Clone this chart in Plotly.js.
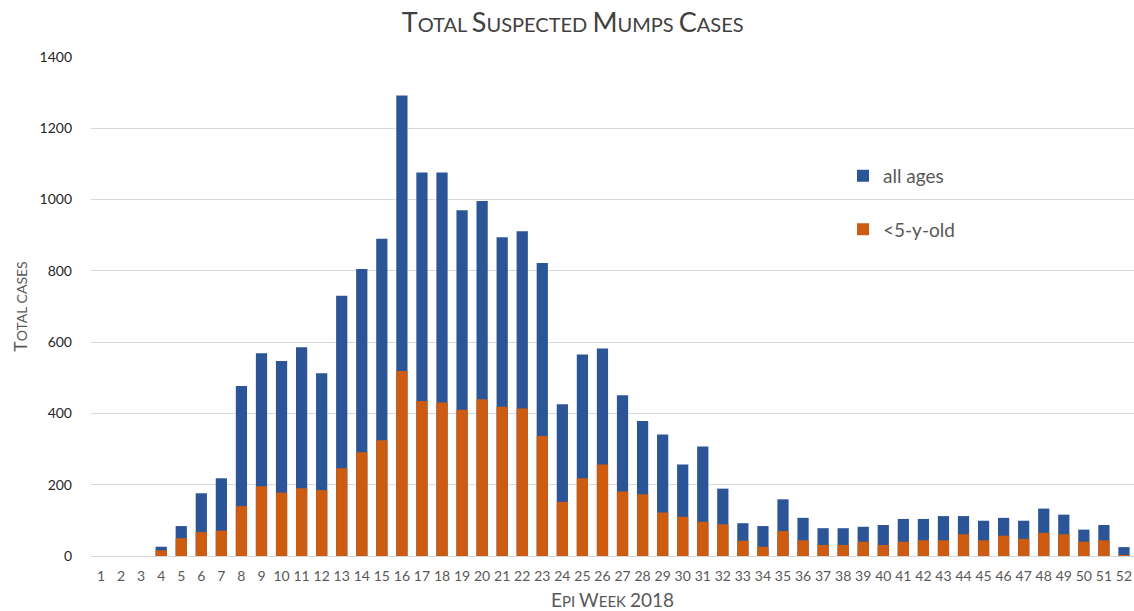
<!DOCTYPE html>
<html>
<head>
<meta charset="utf-8">
<script src="https://cdn.plot.ly/plotly-3.0.1.min.js"></script>
<style>html,body{margin:0;padding:0;background:#fff;}#chart{width:1134px;height:611px;}</style>
</head>
<body>
<div id="chart"></div>
<script>
// Epi weeks 1..52
const weeks = [];
for (let i = 1; i <= 52; i++) weeks.push(i);

// Total suspected cases, all ages
const allAges = [0, 0, 0, 26, 84, 176, 218, 477, 569, 547, 586, 513, 730, 805, 890, 1292, 1076,
  1076, 970, 996, 894, 911, 822, 426, 565, 582, 451, 379, 341, 257, 307, 189, 92, 84, 159,
  107, 78, 78, 82, 87, 104, 104, 112, 112, 99, 107, 99, 133, 116, 74, 87, 25];

// Suspected cases, children under 5 years old
const under5 = [0, 0, 0, 16, 50, 67, 71, 140, 196, 178, 190, 185, 246, 291, 325, 519, 435,
  431, 410, 440, 419, 414, 337, 152, 218, 257, 181, 173, 122, 110, 96, 89, 43, 26, 70,
  44, 31, 31, 40, 31, 40, 44, 44, 61, 44, 57, 48, 65, 61, 40, 44, 3];

const seriesNames = ['all ages', '<5-y-old'];
const yTicks = [0, 200, 400, 600, 800, 1000, 1200, 1400];

// small-caps emulation: capitals and digits at full size, lowercase as small capitals
function smallCaps(s, big, small) {
  let out = '', cur = null, buf = '';
  const flush = () => { if (buf) out += '<span style="font-size:' + (cur ? big : small) + 'px">' + buf + '</span>'; buf = ''; };
  for (const ch of s) {
    const isBig = !(ch >= 'a' && ch <= 'z');
    if (ch !== ' ' && isBig !== cur) { flush(); cur = isBig; }
    buf += ch.toUpperCase();
  }
  flush();
  return out;
}

const traces = [
  {
    type: 'bar', x: weeks, y: allAges, name: seriesNames[0],
    marker: {color: '#2c5597', line: {width: 0}},
    legendgroup: 'a', hoverinfo: 'x+y+name'
  },
  {
    type: 'bar', x: weeks, y: under5, name: seriesNames[1],
    marker: {color: '#cd5c11', line: {width: 0}},
    legendgroup: 'b', hoverinfo: 'x+y+name'
  }
];

const layout = {
  width: 1134, height: 611,
  margin: {l: 91, r: 0, t: 57, b: 55},
  paper_bgcolor: '#ffffff', plot_bgcolor: '#ffffff',
  barmode: 'overlay', bargap: 0.44,
  font: {family: 'Lato, "Noto Sans", sans-serif', color: '#595959'},
  title: {
    text: smallCaps('Total Suspected Mumps Cases', 27, 20),
    font: {family: 'Lato, "Noto Sans", sans-serif', color: '#404040'},
    x: 0.505, xanchor: 'center', y: 0.958, yanchor: 'middle'
  },
  xaxis: {
    tickmode: 'array', tickvals: weeks, ticktext: weeks.map(String),
    range: [0.5, 52.5], showgrid: false, zeroline: false, showline: false,
    ticks: '', tickfont: {size: 14, color: '#595959'}, ticklabelstandoff: 10,
    title: {text: smallCaps('Epi Week 2018', 19, 15), font: {color: '#595959'}, standoff: 14}
  },
  yaxis: {
    range: [0, 1400], tickmode: 'array', tickvals: yTicks, ticktext: yTicks.map(String),
    showgrid: true, gridcolor: '#d9d9d9', gridwidth: 1, zeroline: true, zerolinecolor: '#d9d9d9',
    showline: false, ticks: '', tickfont: {size: 14, color: '#262626'}, ticklabelstandoff: 18,
    title: {text: smallCaps('Total cases', 17.5, 14), font: {color: '#595959'}, standoff: 8}
  },
  showlegend: true,
  legend: {
    x: 0.721, y: 0.80, xanchor: 'left', yanchor: 'top',
    font: {size: 19, color: '#595959'}, bgcolor: 'rgba(0,0,0,0)',
    traceorder: 'grouped', tracegroupgap: 26, itemwidth: 30
  }
};

Plotly.newPlot('chart', traces, layout, {displayModeBar: false, staticPlot: true});
</script>
</body>
</html>
